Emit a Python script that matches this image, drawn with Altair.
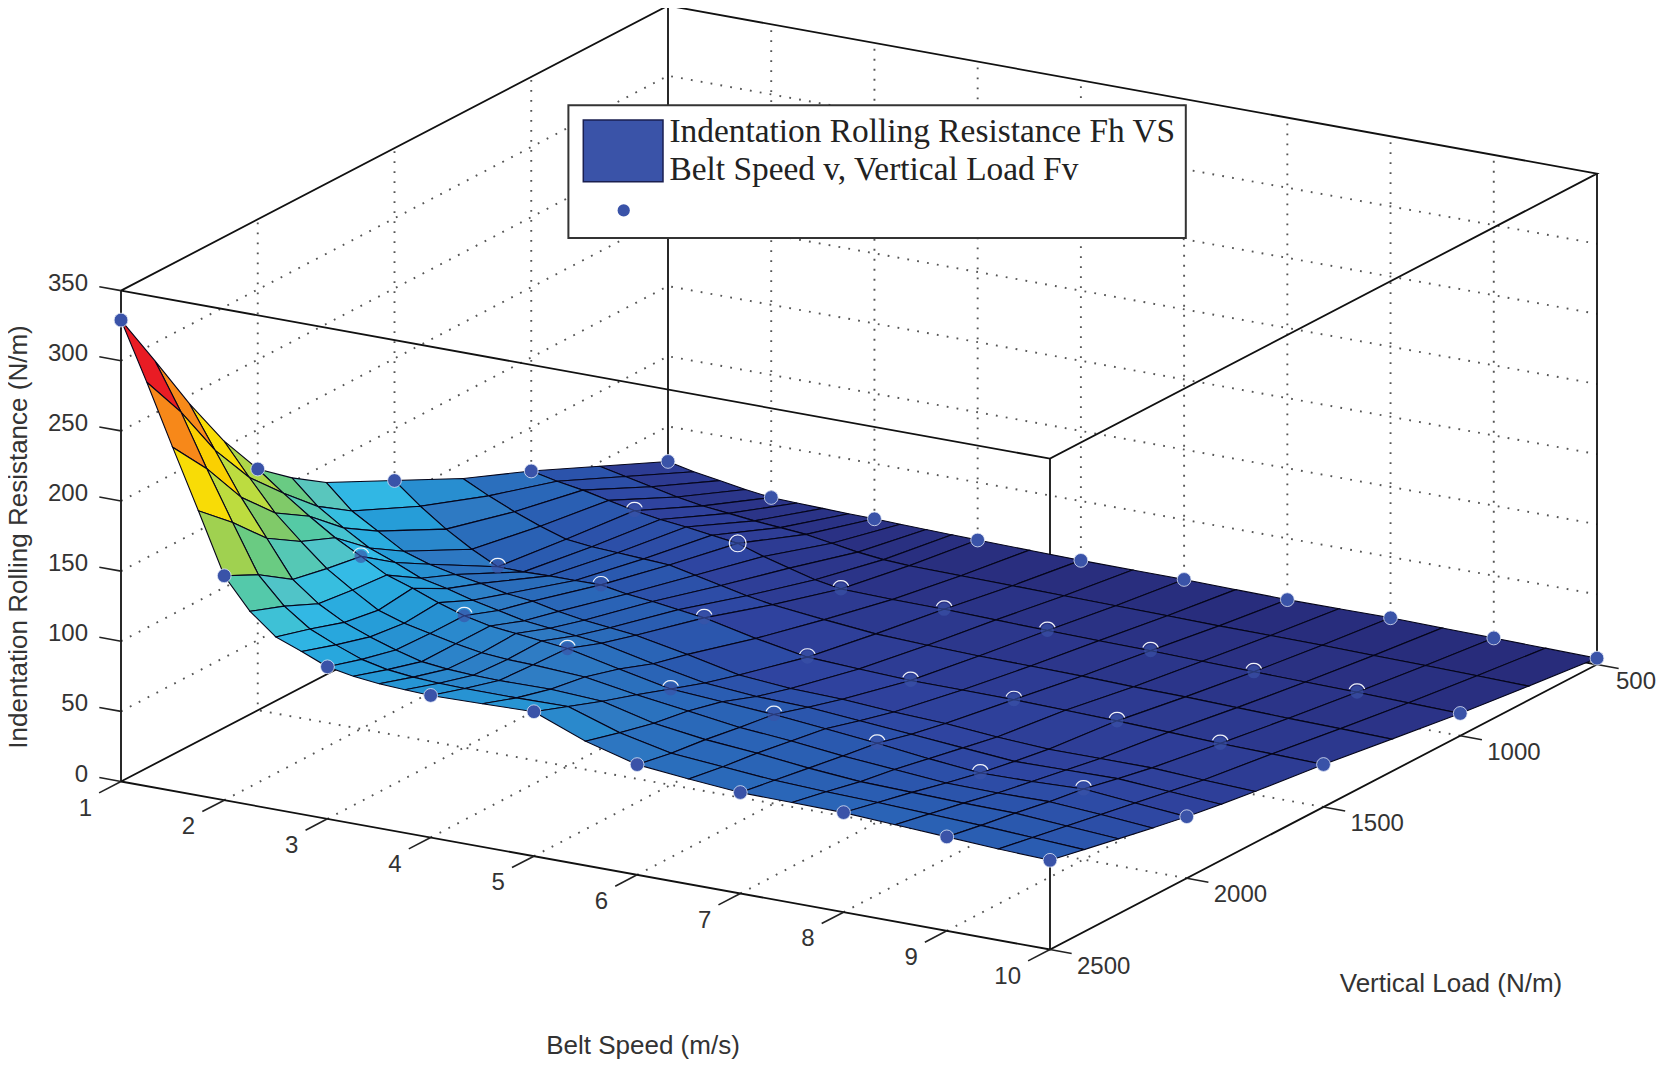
import math
import altair as alt
import pandas as pd

W, H = 1650, 1054

# Surface heights: rows by vertical load, columns by belt speed
speeds = [1, 1.25, 1.5, 1.75, 2, 2.25, 2.5, 2.75, 3, 3.25, 3.5, 3.75, 4,
          4.5, 5, 5.5, 6, 6.5, 7, 7.5, 8, 8.5, 9, 9.5, 10]
loads = [500, 750, 1000, 1250, 1500, 1750, 1875, 2000, 2125, 2250, 2375, 2500]
z500 = [25, 21, 18, 15, 12.6, 12, 11.5, 11, 10.7, 10.2, 9.7, 9.3, 8.9, 8.3, 7.7, 7.5, 7.4, 6.8, 6.3, 6.5, 6.7, 6.1, 5.6, 5, 4.5]
z750 = [47, 43, 39, 35, 32, 30, 28, 26.5, 25, 22, 19, 17, 16, 15.5, 15, 14.5, 14, 13.6, 13, 12.8, 12.5, 11.9, 11.4, 10.7, 10]
z1000 = [69, 65, 62, 58, 54, 51, 49, 46.5, 44, 38, 33, 28, 24.8, 24, 23.6, 22.7, 21.8, 21.2, 20.7, 19.8, 19, 18.3, 17.7, 16.8, 15.9]
z1250 = [89, 80, 72, 65, 59, 57, 56, 55, 54, 50, 46, 42, 39, 35, 31.5, 30, 29, 28.5, 28, 27, 26.5, 25.5, 24.5, 23.8, 23]
z1500 = [113, 98, 85, 74, 64.8, 64.5, 65, 65, 65.2, 62, 60, 57.5, 55, 47, 40.3, 38.5, 37, 36.8, 36.6, 35.7, 34.8, 33.4, 32, 31.2, 30.3]
z1750 = [137, 120, 109, 98, 92, 88, 85, 81, 79, 75, 72, 70, 68, 61, 53, 50, 49, 46.5, 45, 42, 40, 40, 40, 38, 36.5]
z1875 = [153, 136, 124, 113, 106, 98, 94, 89, 85, 81, 79, 77, 75, 67, 60, 57, 56, 53, 50, 47, 44, 44.5, 45, 42.5, 40]
z2000 = [172, 158, 145, 133, 123, 113, 107, 100, 94, 90, 88, 86, 83.9, 76, 68.4, 66, 63.5, 60, 56.3, 52, 48.4, 49, 50.3, 47, 43.9]
z2125 = [205, 182, 160, 143, 127, 115, 104, 98, 94, 90, 87, 85.5, 85, 83, 77, 72, 67, 64, 60, 57, 54, 53.5, 54, 51.5, 48.5]
z2250 = [244, 214, 184, 158, 132, 118, 108, 101, 95, 90, 88, 87, 86.5, 87, 85, 76, 71, 68, 64, 61, 60, 59, 58.5, 56, 53.5]
z2375 = [287, 254, 217, 182, 148, 129, 116, 108, 101, 97, 95, 94, 93.5, 93.5, 94, 82, 74, 71, 68, 66.5, 65.5, 64, 62.5, 60.5, 58.5]
z2500 = [329, 288, 245, 203, 160, 138, 123, 116, 108.4, 105, 103, 102, 101.3, 102, 103, 88.6, 78.6, 75, 72, 71.5, 71, 69, 67, 65, 63.6]
surface = [z500, z750, z1000, z1250, z1500, z1750, z1875, z2000, z2125, z2250, z2375, z2500]

# Measured points (blue dots)
pt_speeds = [1, 2, 3, 4, 5, 6, 7, 8, 9, 10]
pt_loads = [500, 1000, 1500, 2000, 2500]
pt500 = [25, 12.6, 10.7, 8.9, 7.7, 7.4, 6.3, 6.7, 5.6, 4.5]
pt1000 = [69, 54, 44, 24.8, 23.6, 21.8, 20.7, 19, 17.7, 15.9]
pt1500 = [113, 64.8, 65.2, 55, 40.3, 37, 36.6, 34.8, 32, 30.3]
pt2000 = [172, 123, 94, 83.8, 68.4, 63.5, 56.3, 48.4, 50.3, 43.9]
pt2500 = [329, 160, 108.4, 101.3, 103, 78.6, 72, 71, 67, 63.6]
points = [pt500, pt1000, pt1500, pt2000, pt2500]

z_ticks = [0, 50, 100, 150, 200, 250, 300, 350]
v_ticks = [1, 2, 3, 4, 5, 6, 7, 8, 9, 10]
f_ticks = [500, 1000, 1500, 2000, 2500]


def project(v, f, z):
    """Orthographic view used by the reference, in chart pixels."""
    x = 121 + (v - 1) / 9 * 929 + (2500 - f) / 2000 * 547 - 8
    y = 781.5 + (v - 1) / 9 * 168 - (2500 - f) / 2000 * 285 - z * 1.4025 - 8
    return x, y


xs = alt.Scale(domain=[0, W], range=[0, W], nice=False, zero=False)
ys = alt.Scale(domain=[0, H], range=[0, H], nice=False, zero=False)
X = alt.X("x:Q", scale=xs, axis=None)
Y = alt.Y("y:Q", scale=ys, axis=None)


def segments(paths):
    rows = []
    for i, path in enumerate(paths):
        for j, p in enumerate(path):
            x, y = project(*p)
            rows.append({"id": i, "ord": j, "x": x, "y": y})
    return pd.DataFrame(rows)


def lines(paths, **style):
    return alt.Chart(segments(paths)).mark_line(**style).encode(
        x=X, y=Y, detail="id:N", order="ord:Q")


grid_paths = []
for v in v_ticks[1:-1]:
    grid_paths.append([(v, 2500, 0), (v, 500, 0), (v, 500, 350)])
for f in f_ticks[1:-1]:
    grid_paths.append([(10, f, 0), (1, f, 0), (1, f, 350)])
for z in z_ticks[1:-1]:
    grid_paths.append([(1, 2500, z), (1, 500, z), (10, 500, z)])
grid = lines(grid_paths, color="#555555", strokeWidth=1.9, strokeDash=[1.8, 8.2])

box_paths = [
    [(1, 2500, 0), (10, 2500, 0), (10, 500, 0), (1, 500, 0), (1, 2500, 0)],
    [(1, 2500, 350), (10, 2500, 350), (10, 500, 350), (1, 500, 350), (1, 2500, 350)],
    [(1, 2500, 0), (1, 2500, 350)],
    [(10, 2500, 0), (10, 2500, 350)],
    [(1, 500, 0), (1, 500, 350)],
    [(10, 500, 0), (10, 500, 350)],
]
box = lines(box_paths, color="#111111", strokeWidth=1.8)

tick_paths = []
for z in z_ticks:
    tick_paths.append([(1, 2500, z), (0.79, 2500, z)])
for v in v_ticks:
    tick_paths.append([(v, 2500, 0), (v, 2580, 0)])
for f in f_ticks:
    tick_paths.append([(10, f, 0), (10.21, f, 0)])
ticks = lines(tick_paths, color="#222222", strokeWidth=1.6)

# Surface cells, painted from the far corner to the near corner
features = []
for i in range(len(loads) - 1):
    for j in range(len(speeds) - 1):
        corners = [(j, i), (j + 1, i), (j + 1, i + 1), (j, i + 1), (j, i)]
        ring = [list(project(speeds[a], loads[b], surface[b][a])) for a, b in corners]
        mean_z = sum(surface[b][a] for a, b in corners[:4]) / 4
        features.append({"type": "Feature", "properties": {"z": mean_z},
                         "geometry": {"type": "Polygon", "coordinates": [ring]}})

jet_domain = [4.5, 45, 85, 120, 135, 165, 205, 245, 288, 329]
jet_range = ["#272a78", "#2f439f", "#2f7cc4", "#35bce6", "#5cc5c0", "#8fc85a",
             "#f5eb14", "#f7941d", "#ed1c24", "#7f1416"]

mesh = alt.Chart(alt.Data(values={"type": "FeatureCollection", "features": features},
                          format=alt.DataFormat(property="features"))).mark_geoshape(
    stroke="#05051a", strokeWidth=1.1
).encode(
    color=alt.Color("properties.z:Q", legend=None,
                    scale=alt.Scale(domain=jet_domain, range=jet_range))
).project(type="identity", scale=1, translate=[0, 0])

# Measured points
rows = []
for i, f in enumerate(pt_loads):
    for j, v in enumerate(pt_speeds):
        x, y = project(v, f, points[i][j])
        edge = f in (500, 2500) or v in (1, 10)
        full = (f == 1000 and v == 3)
        rows.append({"x": x, "y": y, "edge": edge,
                     "t0": 0.0 if full else 5.1,
                     "t1": 2 * math.pi if full else 7.45})
pts = pd.DataFrame(rows)
edge_pts = alt.Chart(pts[pts.edge]).mark_point(
    filled=True, size=190, color="#3a53a8", opacity=1, stroke="#dfe6f5", strokeWidth=0.8
).encode(x=X, y=Y)
inner = pts[~pts.edge]
inner_pts = alt.Chart(inner).mark_point(
    filled=True, size=170, color="#3a53a8", opacity=0.65
).encode(x=X, y=Y)
inner_arcs = alt.Chart(inner).mark_arc(radius=9, radius2=7.8, color="#f2f4fa").encode(
    x=X, y=Y,
    theta=alt.Theta("t0:Q", scale=None),
    theta2=alt.Theta2("t1:Q"),
)


def label_frame(items):
    return pd.DataFrame([{"x": x, "y": y, "t": t} for x, y, t in items])


z_labels = []
for z in z_ticks:
    _, y = project(0.79, 2500, z)
    z_labels.append((88 - 8, y - 3, str(z)))
v_labels = []
for v in v_ticks:
    x, y = project(v, 2500, 0)
    v_labels.append((x - 29, y + 27, str(v)))
f_labels = []
for f in f_ticks:
    x, y = project(10, f, 0)
    # the 500 label is pulled in so that it stays inside the chart's right edge
    f_labels.append((x + (19 if f == 500 else 27), y + 17, str(f)))

tick_font = dict(font="Liberation Sans", fontSize=24, color="#333333", baseline="middle")
t_z = alt.Chart(label_frame(z_labels)).mark_text(align="right", **tick_font).encode(x=X, y=Y, text="t:N")
t_v = alt.Chart(label_frame(v_labels)).mark_text(align="right", **tick_font).encode(x=X, y=Y, text="t:N")
t_f = alt.Chart(label_frame(f_labels)).mark_text(align="left", **tick_font).encode(x=X, y=Y, text="t:N")

title_font = dict(font="Liberation Sans", fontSize=26, color="#333333", baseline="middle", align="center")
titles = alt.Chart(label_frame([
    (643 - 8, 1046 - 8, "Belt Speed (m/s)"),
    (1451 - 8, 984 - 8, "Vertical Load (N/m)"),
])).mark_text(**title_font).encode(x=X, y=Y, text="t:N")
z_title = alt.Chart(label_frame([
    (10.5, 537 - 8, "Indentation Rolling Resistance (N/m)"),
])).mark_text(angle=270, **title_font).encode(x=X, y=Y, text="t:N")

# Legend
legend_box = alt.Chart(pd.DataFrame([{"x": 560.4, "x2": 1177.8, "y": 97.2, "y2": 230}])).mark_rect(
    fill="white", stroke="#333333", strokeWidth=2
).encode(x=X, x2="x2:Q", y=Y, y2="y2:Q")
legend_swatch = alt.Chart(pd.DataFrame([{"x": 575.3, "x2": 655, "y": 112, "y2": 173.7}])).mark_rect(
    fill="#3a53a8", stroke="#1a1f50", strokeWidth=1.5
).encode(x=X, x2="x2:Q", y=Y, y2="y2:Q")
legend_dot = alt.Chart(pd.DataFrame([{"x": 615.7, "y": 202.4}])).mark_point(
    filled=True, size=150, color="#3a53a8", opacity=1
).encode(x=X, y=Y)
legend_text = alt.Chart(label_frame([
    (661.4, 123.8, "Indentation Rolling Resistance Fh VS"),
    (661.4, 162, "Belt Speed v, Vertical Load Fv"),
])).mark_text(font="Liberation Serif", fontSize=33.4, color="#222222", align="left",
              baseline="middle").encode(x=X, y=Y, text="t:N")

chart = alt.layer(
    grid, box, ticks, mesh, edge_pts, inner_pts, inner_arcs, t_z, t_v, t_f, titles, z_title,
    legend_box, legend_swatch, legend_dot, legend_text
).properties(width=W, height=H, padding=0, autosize="none").configure_view(stroke=None)

chart.save("out.html", embed_options={"renderer": "svg", "actions": False})
